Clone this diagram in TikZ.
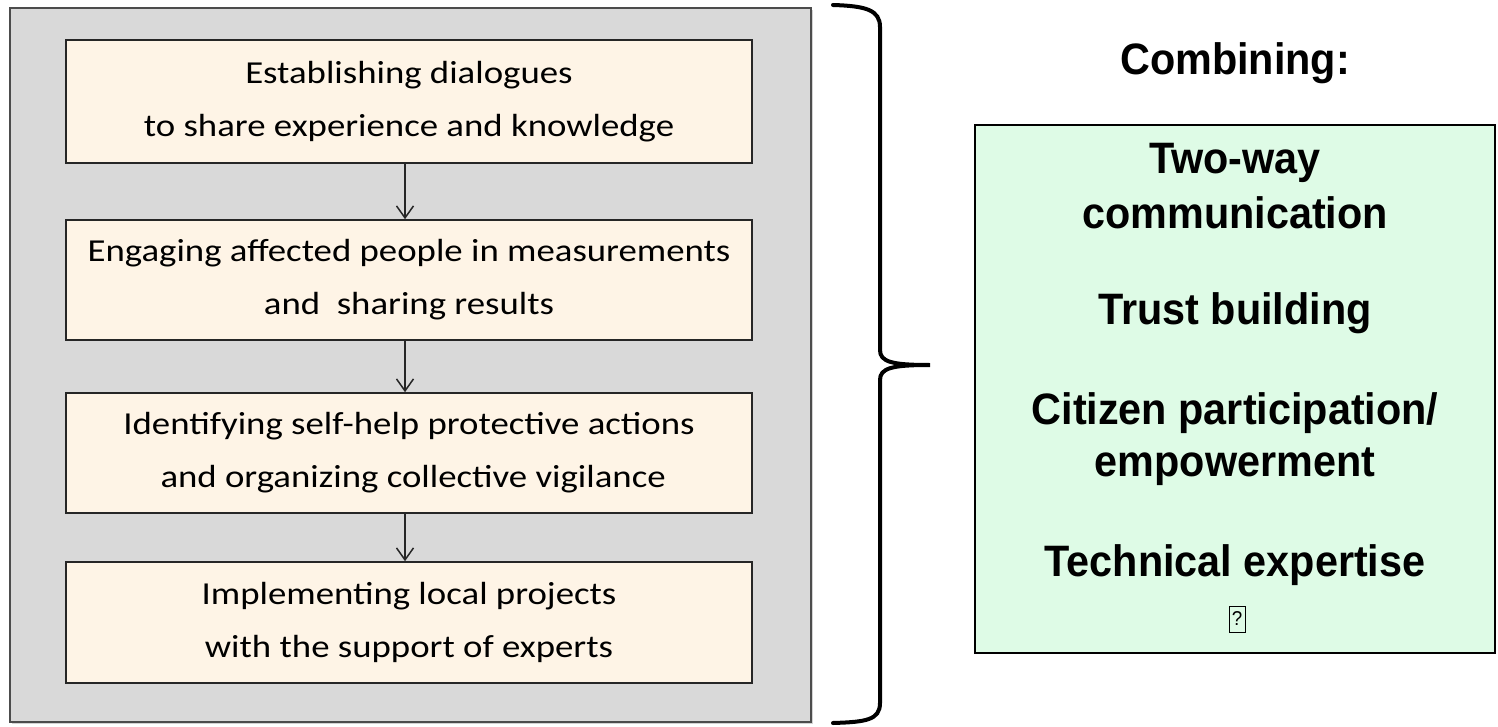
\documentclass[tikz,border=0pt]{standalone}
\usepackage{fontspec}
\setmainfont{Carlito}[FakeStretch=1.15]
\newfontfamily\rfont{Liberation Sans}[FakeStretch=0.94]
\usetikzlibrary{arrows.meta,shadows}
\definecolor{panelgray}{HTML}{D9D9D9}
\definecolor{cream}{HTML}{FEF4E6}
\definecolor{mint}{HTML}{DEFBE6}
\tikzset{
  stepbox/.style={draw=black!85, line width=1.6pt, fill=cream, minimum width=686pt, align=center, inner sep=0pt, font=\fontsize{32}{53}\selectfont},
  flow/.style={line width=1.5pt, black!85, -{Straight Barb[length=12pt,width=17pt,line width=1.5pt]}},
  rtext/.style={font=\rfont\bfseries\fontsize{44}{50}\selectfont, inner sep=0pt},
}
\begin{document}
\begin{tikzpicture}[x=1pt,y=-1pt]
\useasboundingbox (0,0) rectangle (1498,727);
\node[draw=black!70, line width=1.6pt, fill=panelgray, minimum width=801pt, minimum height=714pt, drop shadow={opacity=0.35, shadow xshift=2pt, shadow yshift=-2pt}] (panel) at (410.5,365) {};
\node[stepbox, minimum height=123pt] (b1) at (409,101.5) {Establishing dialogues\\to share experience and knowledge};
\node[stepbox, minimum height=120pt] (b2) at (409,280) {Engaging affected people in measurements\\and\ \ sharing results};
\node[stepbox, minimum height=120pt] (b3) at (409,453) {Identifying self-help protective actions\\\ and organizing collective vigilance};
\node[stepbox, minimum height=121pt] (b4) at (409,622.5) {Implementing local projects\\with the support of experts};
\draw[flow] ([xshift=-4pt]b1.south) -- ([xshift=-4pt]b2.north);
\draw[flow] ([xshift=-4pt]b2.south) -- ([xshift=-4pt]b3.north);
\draw[flow] ([xshift=-4pt]b3.south) -- ([xshift=-4pt]b4.north);
% brace
\coordinate (btop) at (833,5);
\coordinate (btip) at (930,365);
\coordinate (bbot) at (833,723);
\draw[line width=4pt, line cap=round] (btop) .. controls (866,6) and (880,10) .. (880,27) -- (880,350) .. controls (880,362) and (892,365) .. (btip) .. controls (892,365) and (880,368) .. (880,380) -- (880,703) .. controls (880,720) and (866,722) .. (bbot);
% right side
\node[rtext] (comb) at (1235,63) {Combining:};
\node[draw=black, line width=2.5pt, fill=mint, minimum width=520pt, minimum height=528pt] (green) at (1235,389) {};
\node[rtext] (t1) at (1235,163) {Two-way};
\node[rtext] (t2) at (1235,213) {communication};
\node[rtext] (t3) at (1235,313) {Trust building};
\node[rtext] (t4) at (1235,413) {Citizen participation/};
\node[rtext] (t5) at (1235,467) {empowerment};
\node[rtext] (t6) at (1235,565) {Technical expertise};
\node[draw=black, line width=0.8pt, inner sep=1pt, minimum width=16pt, minimum height=26pt, font=\rfont\fontsize{20}{22}\selectfont] (q) at (1237,619) {?};
\end{tikzpicture}
\end{document}
